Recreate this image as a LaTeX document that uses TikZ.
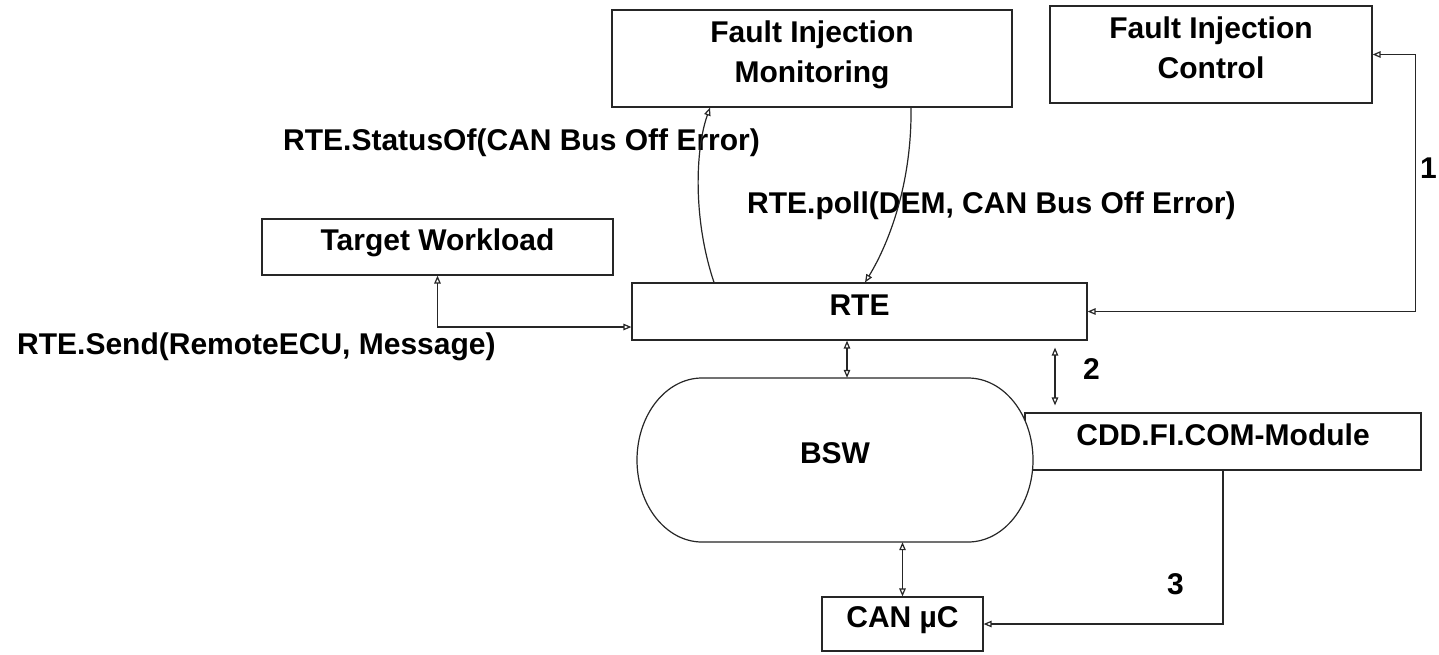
\documentclass[tikz,border=0pt]{standalone}
\usepackage{fontspec}
\setmainfont{Liberation Sans}
\usetikzlibrary{arrows.meta}

\begin{document}
\begin{tikzpicture}[
  x=1pt, y=1pt,
  every node/.style={font=\fontsize{30}{40}\selectfont\bfseries, text=black},
  box/.style={draw=black!85, line width=1.2pt, fill=white, inner sep=0pt,
              text height=21pt, text depth=14pt},
  twoline/.style={box, align=center, text height=61pt, text depth=14pt},
  lbl/.style={inner sep=0pt, anchor=base west},
  link/.style={draw=black!85, line width=1.2pt,
               >={Triangle[open, length=8pt, width=6.5pt]}},
]
\useasboundingbox (0,0) rectangle (1439,-654);

% top row
\node[twoline, minimum width=400pt, minimum height=97pt] (FIM) at (812,-58.5)
  {Fault Injection\\Monitoring};
\node[twoline, minimum width=322pt, minimum height=97pt] (FIC) at (1211,-54.5)
  {Fault Injection\\Control};

% middle row
\node[box, minimum width=351pt, minimum height=56pt] (TW) at (437.5,-247) {Target Workload};
\node[box, minimum width=455pt, minimum height=57pt] (RTE) at (859.5,-311.5) {RTE};

% complex device driver, partly covered by the BSW outline
\node[box, minimum width=396pt, minimum height=57pt] (CDD) at (1223,-441.5) {CDD.FI.COM-Module};

% basic software: flat top and bottom, elliptic ends
\node[inner sep=0pt, minimum width=396pt, minimum height=164pt] (BSW) at (835,-460) {};
\draw[draw=black!85, line width=1.2pt, fill=white]
  (702,-378) -- (968,-378)
  arc[start angle=90, end angle=-90, x radius=65, y radius=82]
  -- (702,-542)
  arc[start angle=270, end angle=90, x radius=65, y radius=82] -- cycle;
\node[inner sep=0pt, text height=21pt, text depth=14pt] (BSWtext) at (BSW.center) {BSW};

\node[box, minimum width=161pt, minimum height=54pt] (CAN) at (902.5,-624) {CAN µC};

% call labels and step numbers
\node[lbl] (lStatus) at (283,-150) {RTE.StatusOf(CAN Bus Off Error)};
\node[lbl] (lPoll) at (747,-213) {RTE.poll(DEM, CAN Bus Off Error)};
\node[lbl] (lSend) at (17,-354) {RTE.Send(RemoteECU, Message)};
\node[lbl] (n1) at (1420,-178) {1};
\node[lbl] (n2) at (1083,-379) {2};
\node[lbl] (n3) at (1167,-594) {3};

% connectors
\draw[link, <->] (TW.south) |- ([yshift=-15.5pt]RTE.west);
\draw[link, <->] (FIC.east) -- ++(43,0) |- (RTE.east);
\draw[link, <->] ([xshift=-12.5pt]RTE.south) -- ([xshift=12pt]BSW.north);
\draw[link, <->] ([shift={(195.5,-7)}]RTE.south) -- ([shift={(-168,7)}]CDD.north);
\draw[link, <->] (BSW.south -| CAN.north) -- (CAN.north);
\draw[link, ->] (CDD.south) |- (CAN.east);

\draw[link, ->] ([xshift=-145.5pt]RTE.north)
  .. controls (693,-220) and (695,-150) .. ([xshift=-102pt]FIM.south);
\draw[link, ->] ([xshift=99pt]FIM.south)
  .. controls (912,-190) and (885,-250) .. ([xshift=5.5pt]RTE.north);
\end{tikzpicture}
\end{document}
